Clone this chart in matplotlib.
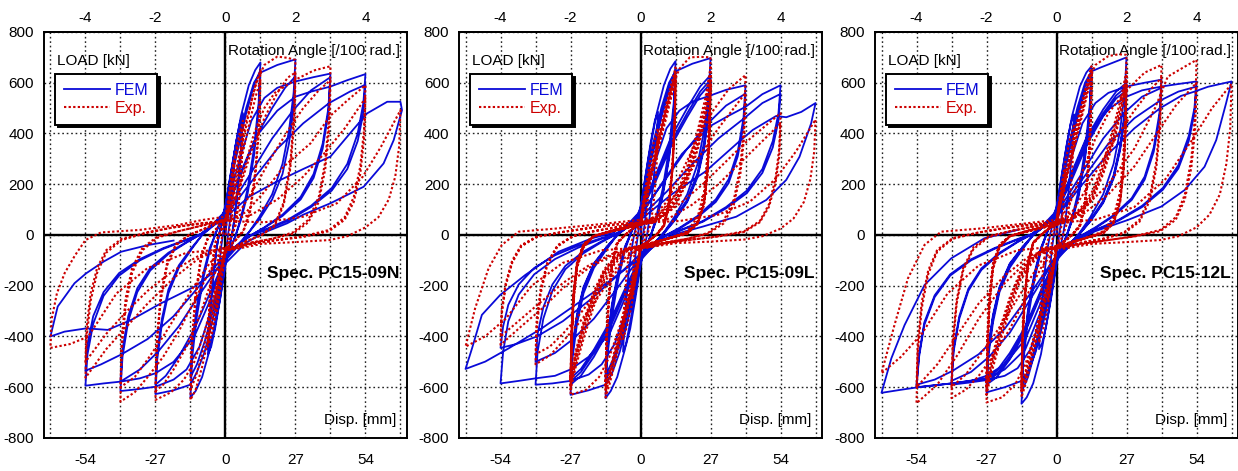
import numpy as np
import matplotlib.pyplot as plt

plt.rcParams['font.family'] = ['Liberation Sans', 'DejaVu Sans']
plt.rcParams['axes.unicode_minus'] = False

# load-displacement histories: (disp [mm], load [kN]), one list per cycle

fem_09n = [
    [(0, 0), (1.2, 130), (2.4, 230), (3.4, 290), (2.8, 180), (1.8, 60), (1.0, 0), (0, -90),
     (-1.2, -170), (-2.4, -240), (-3.4, -290), (-2.8, -180), (-1.8, -60), (-1.0, 0), (0, 90)],
    [(2, 230), (4, 360), (5.5, 440), (6.75, 480), (6, 340), (4.8, 190), (3.5, 70), (2.5, 0), (0, -120),
     (-2, -250), (-4, -370), (-5.5, -440), (-6.75, -470), (-6, -330), (-4.8, -180), (-3.5, -60), (-2.5, 0), (0, 110)],
    [(2.2, 250), (4.4, 380), (6.75, 460), (6, 320), (4.6, 160), (3.2, 40), (2.5, 0), (0, -110),
     (-2.2, -260), (-4.4, -380), (-6.75, -450), (-6, -310), (-4.6, -150), (-3.2, -40), (-2.5, 0), (0, 120)],
    [(3, 300), (6, 470), (9, 590), (11.5, 650), (13.5, 680), (12.8, 520), (11, 340), (8.5, 180), (6, 70), (4, 0), (0, -110),
     (-3, -290), (-6, -450), (-9, -560), (-11.5, -615), (-13.5, -640), (-12.8, -480), (-11, -320), (-8.5, -170), (-6, -60), (-4, 0), (0, 110)],
    [(4, 300), (8, 480), (11, 590), (13.5, 650), (12.8, 490), (11, 310), (8.5, 160), (6, 60), (4, 0), (0, -100),
     (-4, -270), (-8, -420), (-11, -510), (-13.5, -560), (-12.8, -420), (-11, -280), (-8.5, -150), (-6, -50), (-4, 0), (0, 100)],
    [(4, 320), (8, 500), (11, 600), (13.5, 640), (20, 670), (27, 692), (26.3, 560), (24.5, 410), (22, 280), (18, 160), (13, 70), (9, 10), (6, -30), (0, -100),
     (-4, -300), (-8, -460), (-11, -540), (-13.5, -590), (-20, -612), (-27, -627), (-26.3, -490), (-24.5, -350), (-22, -230), (-18, -130), (-13, -55), (-9, 0), (-6, 30), (0, 95)],
    [(6, 240), (12, 390), (18, 500), (23, 580), (27, 625), (26.3, 500), (24.5, 360), (22, 240), (18, 140), (13, 60), (9, 10), (6, -25), (0, -90),
     (-6, -230), (-12, -370), (-18, -480), (-23, -555), (-27, -590), (-26.3, -460), (-24.5, -330), (-22, -215), (-18, -120), (-13, -50), (-9, 0), (-6, 25), (0, 90)],
    [(5, 280), (10, 450), (15, 540), (20, 580), (27, 605), (34, 622), (40.5, 636), (39.7, 500), (37.5, 360), (34, 240), (29, 150), (22, 80), (15, 30), (10, 0), (5, -40), (0, -90),
     (-5, -280), (-10, -440), (-15, -530), (-20, -570), (-27, -598), (-34, -608), (-40.5, -615), (-39.7, -480), (-37.5, -340), (-34, -225), (-29, -140), (-22, -75), (-15, -30), (-10, 0), (-5, 40), (0, 85)],
    [(9, 230), (18, 380), (26, 490), (33, 570), (40.5, 622), (39.7, 480), (37.5, 340), (34, 225), (29, 140), (22, 75), (15, 28), (10, 0), (5, -38), (0, -85),
     (-9, -220), (-18, -360), (-26, -460), (-33, -530), (-40.5, -578), (-39.7, -450), (-37.5, -320), (-34, -210), (-29, -130), (-22, -70), (-15, -28), (-10, 0), (-5, 38), (0, 80)],
    [(6, 250), (12, 390), (20, 490), (27, 545), (33, 565), (40.5, 585), (47, 610), (54, 634), (53.2, 520), (51, 400), (47, 280), (41, 185), (33, 115), (24, 60), (15, 20), (9, -5), (0, -80),
     (-6, -260), (-12, -400), (-20, -500), (-27, -545), (-33, -565), (-40.5, -578), (-47, -585), (-54, -594), (-53.2, -470), (-51, -350), (-47, -240), (-41, -160), (-33, -100), (-24, -55), (-15, -20), (-9, 5), (0, 75)],
    [(10, 210), (20, 340), (30, 440), (40, 520), (48, 565), (54, 592), (53.2, 480), (51, 370), (47, 260), (41, 175), (33, 110), (24, 55), (15, 18), (9, -5), (0, -75),
     (-10, -200), (-20, -320), (-30, -410), (-40, -470), (-48, -510), (-54, -535), (-53.2, -430), (-51, -320), (-47, -225), (-41, -150), (-33, -95), (-24, -52), (-15, -18), (-9, 5), (0, 70)],
    [(9, 150), (18.6, 204), (30, 260), (40.5, 309), (48, 400), (54.6, 479), (62.4, 525), (67.5, 525), (68.1, 492), (64.9, 374), (61, 282), (53.3, 190), (40.5, 125), (30, 80), (23.8, 46), (15, 10), (8, -30), (0, -112),
     (-12, -204), (-24.8, -269), (-36.4, -335), (-45.4, -374), (-53.7, -368), (-62.1, -381), (-67.5, -400), (-64.7, -282), (-58.2, -190), (-53.7, -151), (-47, -105), (-40.2, -66), (-30, -40), (-20, -22)],
]

exp_09n = [
    [(0, 0), (1, 110), (2.2, 220), (3.4, 300), (2.9, 170), (2.2, 60), (1.2, 0), (0, -70),
     (-1, -140), (-2.2, -230), (-3.4, -300), (-2.9, -170), (-2.2, -60), (-1.2, 0), (0, 70)],
    [(1.5, 170), (3.5, 300), (5.2, 390), (6.75, 450), (6.2, 300), (5.3, 160), (4, 50), (2.5, 0), (0, -60),
     (-1.5, -160), (-3.5, -300), (-5.2, -390), (-6.75, -440), (-6.2, -290), (-5.3, -150), (-4, -40), (-2.5, 0), (0, 60)],
    [(2, 180), (4, 310), (6.75, 430), (6.2, 280), (5.3, 140), (4, 40), (2.5, 0), (0, -60),
     (-2, -170), (-4, -310), (-6.75, -420), (-6.2, -270), (-5.3, -130), (-4, -30), (-2.5, 0), (0, 60)],
    [(3, 160), (6, 330), (9, 480), (11.5, 590), (13.5, 650), (13, 450), (11.5, 250), (9.5, 100), (7, 20), (4, -20), (0, -60),
     (-3, -200), (-6, -380), (-9, -520), (-11.5, -610), (-13.5, -650), (-13, -450), (-11.5, -250), (-9.5, -100), (-7, -20), (-4, 20), (0, 60)],
    [(3, 140), (6, 290), (9, 430), (11.5, 540), (13.5, 610), (13, 420), (11.5, 230), (9.5, 90), (7, 15), (4, -20), (0, -55),
     (-3, -180), (-6, -340), (-9, -470), (-11.5, -560), (-13.5, -610), (-13, -420), (-11.5, -230), (-9.5, -90), (-7, -15), (-4, 20), (0, 55)],
    [(4, 250), (8, 450), (12, 600), (15, 670), (20, 703), (24, 698), (27, 690), (26.5, 480), (25, 280), (22.5, 130), (19, 40), (14, 0), (8, -25), (2, -55), (0, -70),
     (-4, -220), (-8, -380), (-12, -500), (-16, -570), (-21, -620), (-27, -650), (-26.5, -440), (-25, -260), (-22.5, -120), (-19, -40), (-14, 0), (-8, 25), (-2, 55), (0, 65)],
    [(5, 170), (10, 330), (15, 460), (20, 560), (24, 620), (27, 640), (26.5, 440), (25, 260), (22.5, 120), (19, 35), (14, 0), (8, -25), (2, -55), (0, -65),
     (-5, -170), (-10, -320), (-15, -440), (-20, -530), (-24, -590), (-27, -615), (-26.5, -420), (-25, -240), (-22.5, -110), (-19, -35), (-14, 0), (-8, 25), (-2, 50), (0, 60)],
    [(3, 110), (7, 250), (11, 400), (15, 500), (19, 560), (27, 612), (34, 648), (40.5, 665), (40, 470), (38.5, 290), (36, 150), (32, 60), (26, 10), (18, -15), (10, -30), (3, -55), (0, -60),
     (-6, -140), (-12, -260), (-18, -380), (-24, -480), (-30, -560), (-35, -620), (-40.5, -657), (-40, -450), (-38.5, -280), (-36, -150), (-32, -60), (-26, -10), (-18, 15), (-10, 35), (-3, 55), (0, 60)],
    [(6, 100), (12, 200), (18, 310), (24, 410), (30, 500), (36, 570), (40.5, 610), (40, 420), (38.5, 260), (36, 130), (32, 50), (26, 5), (18, -15), (10, -30), (3, -50), (0, -55),
     (-6, -110), (-12, -200), (-18, -300), (-24, -400), (-30, -490), (-35, -560), (-40.5, -600), (-40, -410), (-38.5, -250), (-36, -130), (-32, -50), (-26, -5), (-18, 15), (-10, 35), (-3, 50), (0, 55)],
    [(8, 90), (15, 170), (22.5, 270), (32.8, 361), (40.5, 470), (47, 530), (54, 590), (53.5, 420), (52, 270), (49.5, 150), (46, 70), (40, 20), (30, -5), (20, -20), (10, -35), (3, -55), (0, -50),
     (-10, -90), (-20, -170), (-30, -270), (-38, -360), (-46, -450), (-54, -563), (-53.5, -400), (-52, -260), (-49.5, -150), (-46, -70), (-40, -20), (-30, 10), (-20, 30), (-10, 45), (0, 55)],
    [(10, 80), (20, 140), (30, 230), (38, 320), (46, 420), (54, 540), (53.5, 380), (52, 240), (49.5, 130), (46, 60), (40, 15), (30, -8), (20, -20), (10, -35), (0, -50),
     (-10, -80), (-20, -140), (-30, -220), (-38, -300), (-46, -390), (-54, -500), (-53.5, -360), (-52, -230), (-49.5, -130), (-46, -60), (-40, -15), (-30, 10), (-20, 30), (-10, 45), (0, 55)],
    [(15, 50), (30, 72), (43, 125), (53, 230), (60, 348), (67.5, 492), (67, 350), (65.5, 230), (63, 140), (59, 70), (54, 30), (47, -5), (40, -20), (27, -28), (14, -35), (2, -60), (0, -55),
     (-15, -70), (-30, -130), (-42, -230), (-53, -401), (-60, -430), (-67.5, -445), (-67, -330), (-65, -230), (-62, -150), (-58, -80), (-54, -20), (-48, 10), (-33, 20), (-18, 40), (-9, 59), (0, 72)],
]

fem_09l = [
    [(0, 0), (1.2, 140), (2.4, 240), (3.4, 300), (2.8, 190), (1.8, 60), (1, 0), (0, -90),
     (-1.2, -170), (-2.4, -250), (-3.4, -300), (-2.8, -190), (-1.8, -60), (-1, 0), (0, 90)],
    [(2, 240), (4, 370), (5.5, 450), (6.75, 485), (6, 340), (4.8, 190), (3.5, 70), (2.5, 0), (0, -120),
     (-2, -250), (-4, -370), (-5.5, -430), (-6.75, -460), (-6, -320), (-4.8, -170), (-3.5, -60), (-2.5, 0), (0, 110)],
    [(3, 300), (6, 470), (9, 590), (11.5, 655), (13.5, 685), (12.8, 520), (11, 340), (8.5, 180), (6, 70), (4, 0), (0, -110),
     (-3, -290), (-6, -450), (-9, -560), (-11.5, -615), (-13.5, -643), (-12.8, -480), (-11, -320), (-8.5, -170), (-6, -60), (-4, 0), (0, 110)],
    [(4, 300), (8, 480), (11, 590), (13.5, 650), (12.8, 490), (11, 310), (8.5, 160), (6, 60), (4, 0), (0, -100),
     (-4, -270), (-8, -430), (-11, -520), (-13.5, -570), (-12.8, -430), (-11, -280), (-8.5, -150), (-6, -50), (-4, 0), (0, 100)],
    [(4, 290), (8, 460), (11, 570), (13.5, 630), (12.8, 470), (11, 300), (8.5, 150), (6, 55), (4, 0), (0, -95),
     (-4, -260), (-8, -410), (-11, -500), (-13.5, -555), (-12.8, -410), (-11, -270), (-8.5, -140), (-6, -45), (-4, 0), (0, 95)],
    [(4, 320), (8, 500), (11, 600), (13.5, 645), (20, 675), (27, 697), (26.3, 560), (24.5, 410), (22, 280), (18, 160), (13, 70), (9, 10), (6, -30), (0, -100),
     (-4, -300), (-8, -460), (-11, -545), (-13.5, -590), (-20, -612), (-27, -630), (-26.3, -490), (-24.5, -350), (-22, -230), (-18, -130), (-13, -55), (-9, 0), (-6, 30), (0, 95)],
    [(6, 240), (12, 390), (18, 500), (23, 585), (27, 630), (26.3, 505), (24.5, 365), (22, 245), (18, 140), (13, 60), (9, 10), (6, -25), (0, -90),
     (-6, -230), (-12, -370), (-18, -480), (-23, -555), (-27, -590), (-26.3, -460), (-24.5, -330), (-22, -215), (-18, -120), (-13, -50), (-9, 0), (-6, 25), (0, 90)],
    [(6, 225), (12, 370), (18, 480), (23, 565), (27, 612), (26.3, 485), (24.5, 350), (22, 235), (18, 135), (13, 58), (9, 8), (6, -25), (0, -88),
     (-6, -220), (-12, -355), (-18, -465), (-23, -540), (-27, -578), (-26.3, -450), (-24.5, -320), (-22, -210), (-18, -115), (-13, -48), (-9, 0), (-6, 24), (0, 88)],
    [(6, 215), (12, 355), (18, 465), (23, 550), (27, 598), (26.3, 470), (24.5, 340), (22, 228), (18, 130), (13, 55), (9, 6), (6, -25), (0, -85),
     (-6, -212), (-12, -345), (-18, -452), (-23, -528), (-27, -565), (-26.3, -440), (-24.5, -312), (-22, -205), (-18, -112), (-13, -46), (-9, 0), (-6, 24), (0, 85)],
    [(5, 270), (10, 420), (15, 490), (20, 525), (27, 550), (33, 572), (40.5, 590), (39.7, 460), (37.5, 330), (34, 220), (29, 140), (22, 75), (15, 28), (10, 0), (5, -40), (0, -90),
     (-5, -280), (-10, -430), (-15, -510), (-20, -550), (-27, -575), (-34, -585), (-40.5, -590), (-39.7, -460), (-37.5, -330), (-34, -220), (-29, -135), (-22, -72), (-15, -28), (-10, 0), (-5, 38), (0, 85)],
    [(9, 210), (18, 340), (26, 440), (33, 510), (40.5, 557), (39.7, 430), (37.5, 310), (34, 205), (29, 130), (22, 70), (15, 25), (10, 0), (5, -36), (0, -85),
     (-9, -210), (-18, -330), (-26, -410), (-33, -465), (-40.5, -500), (-39.7, -390), (-37.5, -285), (-34, -195), (-29, -122), (-22, -65), (-15, -25), (-10, 0), (-5, 35), (0, 75)],
    [(8, 200), (16, 320), (27, 430), (34, 470), (40.5, 505), (47, 555), (54, 590), (53.2, 480), (51, 370), (47, 260), (41, 175), (33, 110), (24, 55), (15, 18), (9, -5), (0, -80),
     (-6, -250), (-12, -390), (-20, -480), (-27, -530), (-33, -555), (-40.5, -565), (-47, -575), (-54, -585), (-53, -460), (-51, -340), (-47, -235), (-41, -155), (-33, -95), (-24, -50), (-15, -15), (-9, 5), (0, 70)],
    [(10, 170), (20, 280), (30, 380), (40, 460), (47, 520), (54, 556), (53.2, 450), (51, 345), (47, 245), (41, 165), (33, 105), (24, 52), (15, 16), (9, -5), (0, -75),
     (-10, -170), (-20, -260), (-30, -340), (-40, -400), (-48, -430), (-54, -445), (-53, -360), (-51, -275), (-47, -195), (-41, -130), (-33, -80), (-24, -42), (-15, -12), (-9, 5), (0, 60)],
    [(12, 160), (25, 250), (38, 368), (43.3, 414), (52.3, 469), (56.2, 464), (62, 485), (67.5, 520), (65.8, 440), (61.3, 308), (56.2, 217), (48.5, 138), (36.9, 72), (24, 33), (14, 5), (8, -20), (0, -90),
     (-12.3, -184), (-25.2, -276), (-38.1, -368), (-50.9, -447), (-59.9, -499), (-67.5, -528), (-65, -447), (-61.2, -315), (-54.1, -236), (-44.5, -158), (-31.6, -66), (-18.8, -13), (-10, 10)],
]

exp_09l = [
    [(0, 0), (1, 100), (2.2, 190), (3.4, 250), (2.9, 150), (2.2, 50), (1.2, 0), (0, -60),
     (-1, -120), (-2.2, -190), (-3.4, -250), (-2.9, -150), (-2.2, -50), (-1.2, 0), (0, 60)],
    [(1.5, 160), (3.5, 280), (5.2, 370), (6.75, 420), (6.2, 280), (5.3, 150), (4, 45), (2.5, 0), (0, -55),
     (-1.5, -150), (-3.5, -280), (-5.2, -360), (-6.75, -410), (-6.2, -270), (-5.3, -140), (-4, -40), (-2.5, 0), (0, 55)],
    [(1, 125), (4, 260), (7, 390), (10, 520), (12, 600), (13.5, 660), (13.2, 470), (12.3, 280), (11, 130), (9, 40), (6, 0), (3, -25), (0, -50),
     (-1, -120), (-4, -250), (-7, -380), (-10, -510), (-12, -590), (-13.5, -640), (-13.2, -450), (-12.3, -270), (-11, -120), (-9, -35), (-6, 0), (-3, 25), (0, 50)],
    [(1, 115), (4, 245), (7, 370), (10, 500), (12, 580), (13.5, 640), (13.2, 455), (12.3, 270), (11, 125), (9, 38), (6, 0), (3, -25), (0, -48),
     (-1, -115), (-4, -240), (-7, -365), (-10, -490), (-12, -570), (-13.5, -620), (-13.2, -435), (-12.3, -260), (-11, -115), (-9, -33), (-6, 0), (-3, 25), (0, 48)],
    [(1, 105), (4, 235), (7, 355), (10, 480), (12, 565), (13.5, 625), (13.2, 440), (12.3, 260), (11, 120), (9, 35), (6, 0), (3, -25), (0, -46),
     (-1, -110), (-4, -230), (-7, -350), (-10, -470), (-12, -555), (-13.5, -605), (-13.2, -420), (-12.3, -250), (-11, -110), (-9, -30), (-6, 0), (-3, 25), (0, 46)],
    [(1, 100), (4, 225), (7, 345), (10, 465), (12, 550), (13.5, 610), (13.2, 430), (12.3, 250), (11, 115), (9, 32), (6, 0), (3, -25), (0, -45),
     (-1, -105), (-4, -220), (-7, -340), (-10, -455), (-12, -540), (-13.5, -590), (-13.2, -410), (-12.3, -240), (-11, -105), (-9, -28), (-6, 0), (-3, 25), (0, 45)],
    [(4, 220), (8, 420), (12, 580), (15, 655), (19, 700), (23, 702), (27, 700), (26.6, 500), (25.8, 320), (24.5, 170), (22, 70), (18, 15), (12, -10), (6, -30), (0, -55),
     (-4, -200), (-8, -360), (-12, -480), (-16, -560), (-21, -610), (-27, -630), (-26.6, -430), (-25.8, -260), (-24.5, -130), (-22, -50), (-18, -5), (-12, 15), (-6, 30), (0, 50)],
    [(5, 60), (10, 110), (14, 165), (18, 270), (22, 410), (25, 540), (27, 660), (26.6, 440), (25.8, 270), (24.5, 140), (22, 55), (18, 10), (12, -10), (6, -28), (0, -50),
     (-5, -62), (-10, -115), (-14, -175), (-18, -280), (-22, -410), (-25, -520), (-27, -610), (-26.6, -410), (-25.8, -250), (-24.5, -125), (-22, -45), (-18, -5), (-12, 14), (-6, 30), (0, 45)],
    [(5, 55), (10, 100), (14, 150), (18, 250), (22, 385), (25, 510), (27, 635), (26.6, 425), (25.8, 260), (24.5, 135), (22, 50), (18, 8), (12, -10), (6, -28), (0, -48),
     (-5, -58), (-10, -105), (-14, -160), (-18, -260), (-22, -390), (-25, -500), (-27, -595), (-26.6, -400), (-25.8, -240), (-24.5, -120), (-22, -42), (-18, -5), (-12, 13), (-6, 28), (0, 44)],
    [(5, 52), (10, 95), (14, 140), (18, 235), (22, 365), (25, 490), (27, 615), (26.6, 410), (25.8, 250), (24.5, 128), (22, 48), (18, 7), (12, -10), (6, -27), (0, -46),
     (-5, -55), (-10, -98), (-14, -150), (-18, -245), (-22, -370), (-25, -485), (-27, -580), (-26.6, -390), (-25.8, -232), (-24.5, -115), (-22, -40), (-18, -4), (-12, 12), (-6, 27), (0, 43)],
    [(5, 50), (10, 90), (14, 132), (18, 222), (22, 350), (25, 475), (27, 600), (26.6, 400), (25.8, 242), (24.5, 122), (22, 45), (18, 6), (12, -10), (6, -26), (0, -45),
     (-5, -52), (-10, -92), (-14, -142), (-18, -232), (-22, -355), (-25, -470), (-27, -570), (-26.6, -382), (-25.8, -225), (-24.5, -110), (-22, -38), (-18, -4), (-12, 12), (-6, 26), (0, 42)],
    [(5, 48), (10, 85), (14, 125), (18, 210), (22, 335), (25, 460), (27, 585), (26.6, 390), (25.8, 235), (24.5, 118), (22, 43), (18, 5), (12, -10), (6, -25), (0, -44),
     (-5, -50), (-10, -88), (-14, -135), (-18, -222), (-22, -342), (-25, -458), (-27, -560), (-26.6, -375), (-25.8, -220), (-24.5, -106), (-22, -36), (-18, -3), (-12, 12), (-6, 25), (0, 42)],
    [(4, 60), (10, 130), (16, 250), (22, 380), (28, 490), (34, 575), (40.5, 630), (40, 440), (38.5, 270), (36, 140), (32, 55), (26, 8), (18, -15), (10, -30), (3, -50), (0, -52),
     (-6, -100), (-12, -180), (-18, -270), (-24, -350), (-30, -420), (-35, -475), (-40.5, -510), (-40, -360), (-38.5, -230), (-36, -120), (-32, -45), (-26, -5), (-18, 15), (-10, 30), (-3, 45), (0, 50)],
    [(6, 70), (12, 140), (18, 230), (24, 330), (30, 420), (36, 500), (40.5, 560), (40, 390), (38.5, 240), (36, 120), (32, 45), (26, 5), (18, -15), (10, -28), (3, -46), (0, -48),
     (-6, -90), (-12, -160), (-18, -240), (-24, -320), (-30, -390), (-35, -440), (-40.5, -470), (-40, -330), (-38.5, -210), (-36, -110), (-32, -40), (-26, -3), (-18, 15), (-10, 28), (-3, 42), (0, 46)],
    [(8, 70), (16, 130), (24, 200), (32, 280), (40, 360), (47, 420), (54, 480), (53.5, 340), (52, 220), (49.5, 120), (46, 55), (40, 15), (30, -5), (20, -18), (10, -32), (0, -46),
     (-10, -75), (-20, -130), (-30, -210), (-38, -290), (-46, -360), (-54, -433), (-53.5, -310), (-52, -200), (-49.5, -110), (-46, -45), (-40, -8), (-30, 12), (-20, 28), (-10, 42), (0, 50)],
    [(10, 60), (20, 120), (30, 200), (38, 280), (46, 360), (54, 440), (53.5, 310), (52, 200), (49.5, 110), (46, 50), (40, 12), (30, -6), (20, -18), (10, -30), (0, -44),
     (-10, -70), (-20, -120), (-30, -190), (-38, -260), (-46, -330), (-54, -400), (-53.5, -290), (-52, -190), (-49.5, -100), (-46, -40), (-40, -6), (-30, 12), (-20, 26), (-10, 40), (0, 48)],
    [(15, 55), (30, 80), (42, 130), (52, 220), (60, 330), (67.5, 455), (67, 330), (65.5, 220), (63, 130), (59, 65), (54, 25), (47, -5), (40, -18), (27, -26), (14, -32), (2, -50), (0, -50),
     (-15, -60), (-30, -110), (-42, -200), (-52, -330), (-60, -400), (-67.5, -440), (-63.8, -289), (-58.6, -131), (-53.5, -39), (-47, 13), (-33, 25), (-18, 40), (-9, 50), (0, 60)],
]

fem_12l = [
    [(0, 0), (1.2, 130), (2.4, 230), (3.4, 280), (2.8, 175), (1.8, 55), (1, 0), (0, -90),
     (-1.2, -165), (-2.4, -235), (-3.4, -280), (-2.8, -175), (-1.8, -55), (-1, 0), (0, 90)],
    [(2, 230), (4, 360), (5.5, 440), (6.75, 475), (6, 335), (4.8, 185), (3.5, 65), (2.5, 0), (0, -115),
     (-2, -245), (-4, -360), (-5.5, -425), (-6.75, -450), (-6, -315), (-4.8, -165), (-3.5, -55), (-2.5, 0), (0, 110)],
    [(3, 300), (6, 470), (9, 585), (11.5, 640), (13.5, 665), (12.8, 510), (11, 335), (8.5, 175), (6, 68), (4, 0), (0, -110),
     (-3, -300), (-6, -470), (-9, -585), (-11.5, -640), (-13.5, -665), (-12.8, -500), (-11, -330), (-8.5, -175), (-6, -62), (-4, 0), (0, 110)],
    [(4, 300), (8, 480), (11, 585), (13.5, 640), (12.8, 485), (11, 310), (8.5, 160), (6, 60), (4, 0), (0, -100),
     (-4, -280), (-8, -450), (-11, -560), (-13.5, -620), (-12.8, -470), (-11, -305), (-8.5, -160), (-6, -55), (-4, 0), (0, 100)],
    [(4, 290), (8, 460), (11, 565), (13.5, 620), (12.8, 470), (11, 300), (8.5, 150), (6, 55), (4, 0), (0, -95),
     (-4, -265), (-8, -430), (-11, -540), (-13.5, -600), (-12.8, -455), (-11, -295), (-8.5, -150), (-6, -50), (-4, 0), (0, 95)],
    [(4, 320), (8, 500), (11, 600), (13.5, 645), (17, 660), (22, 680), (27, 700), (26.3, 560), (24.5, 410), (22, 280), (18, 160), (13, 70), (9, 10), (6, -30), (0, -100),
     (-4, -300), (-8, -460), (-11, -540), (-13.5, -575), (-20, -600), (-27, -620), (-26.3, -480), (-24.5, -345), (-22, -225), (-18, -128), (-13, -55), (-9, 0), (-6, 30), (0, 95)],
    [(6, 240), (12, 390), (18, 495), (23, 565), (27, 600), (26.3, 480), (24.5, 350), (22, 235), (18, 135), (13, 58), (9, 8), (6, -25), (0, -90),
     (-6, -235), (-12, -380), (-18, -490), (-23, -560), (-27, -590), (-26.3, -460), (-24.5, -330), (-22, -215), (-18, -120), (-13, -50), (-9, 0), (-6, 25), (0, 90)],
    [(6, 230), (12, 375), (18, 480), (23, 550), (27, 585), (26.3, 470), (24.5, 340), (22, 228), (18, 130), (13, 55), (9, 6), (6, -25), (0, -88),
     (-6, -225), (-12, -370), (-18, -478), (-23, -548), (-27, -580), (-26.3, -450), (-24.5, -322), (-22, -210), (-18, -115), (-13, -48), (-9, 0), (-6, 24), (0, 88)],
    [(6, 220), (12, 362), (18, 468), (23, 538), (27, 570), (26.3, 458), (24.5, 332), (22, 222), (18, 126), (13, 53), (9, 5), (6, -25), (0, -86),
     (-6, -218), (-12, -360), (-18, -465), (-23, -535), (-27, -565), (-26.3, -440), (-24.5, -315), (-22, -205), (-18, -112), (-13, -46), (-9, 0), (-6, 24), (0, 86)],
    [(5, 280), (10, 440), (15, 520), (20, 560), (27, 585), (34, 600), (40.5, 612), (39.7, 480), (37.5, 345), (34, 230), (29, 145), (22, 78), (15, 30), (10, 0), (5, -40), (0, -90),
     (-5, -290), (-10, -450), (-15, -525), (-20, -555), (-27, -572), (-34, -582), (-40.5, -590), (-39.7, -460), (-37.5, -330), (-34, -220), (-29, -138), (-22, -74), (-15, -28), (-10, 0), (-5, 40), (0, 85)],
    [(9, 230), (18, 380), (26, 480), (33, 545), (40.5, 580), (39.7, 455), (37.5, 328), (34, 218), (29, 138), (22, 74), (15, 27), (10, 0), (5, -38), (0, -85),
     (-9, -235), (-18, -385), (-26, -480), (-33, -540), (-40.5, -575), (-39.7, -448), (-37.5, -320), (-34, -212), (-29, -132), (-22, -70), (-15, -26), (-10, 0), (-5, 38), (0, 80)],
    [(6, 250), (12, 395), (20, 495), (27, 545), (33, 570), (40.5, 585), (47, 595), (54, 605), (53.2, 500), (51, 390), (47, 275), (41, 185), (33, 115), (24, 60), (15, 20), (9, -5), (0, -85),
     (-6, -265), (-12, -410), (-20, -510), (-27, -555), (-33, -575), (-40.5, -585), (-47, -592), (-54, -600), (-53, -480), (-51, -355), (-47, -245), (-41, -160), (-33, -100), (-24, -55), (-15, -18), (-9, 5), (0, 75)],
    [(10, 220), (20, 360), (30, 460), (40, 530), (47, 565), (54, 585), (53.2, 480), (51, 370), (47, 262), (41, 178), (33, 110), (24, 57), (15, 18), (9, -5), (0, -80),
     (-10, -230), (-20, -370), (-30, -470), (-40, -535), (-47, -570), (-54, -590), (-53, -470), (-51, -345), (-47, -238), (-41, -155), (-33, -96), (-24, -52), (-15, -16), (-9, 5), (0, 70)],
    [(10, 200), (20, 320), (30, 420), (40, 500), (48, 548), (53.2, 565), (58.4, 584), (67.5, 605), (65.4, 519), (61.6, 374), (57.1, 269), (49.4, 177), (40.4, 112), (27.5, 59), (15, 15), (8, -20), (0, -90),
     (-6, -300), (-12, -450), (-20, -530), (-27, -565), (-40.5, -585), (-54, -601), (-60, -610), (-67.5, -622), (-63.7, -486), (-58.6, -355), (-50.9, -197), (-40.6, -92), (-27.8, -13), (-15, 20)],
]

exp_12l = [
    [(0, 0), (1, 105), (2.2, 200), (3.4, 260), (2.9, 155), (2.2, 50), (1.2, 0), (0, -60),
     (-1, -125), (-2.2, -200), (-3.4, -260), (-2.9, -155), (-2.2, -50), (-1.2, 0), (0, 60)],
    [(1.5, 165), (3.5, 290), (5.2, 380), (6.75, 430), (6.2, 285), (5.3, 150), (4, 45), (2.5, 0), (0, -55),
     (-1.5, -155), (-3.5, -290), (-5.2, -375), (-6.75, -425), (-6.2, -280), (-5.3, -145), (-4, -40), (-2.5, 0), (0, 55)],
    [(1, 125), (4, 260), (7, 395), (10, 525), (12, 610), (13.5, 665), (13.2, 475), (12.3, 285), (11, 130), (9, 40), (6, 0), (3, -25), (0, -50),
     (-1, -120), (-4, -250), (-7, -385), (-10, -510), (-12, -590), (-13.5, -640), (-13.2, -450), (-12.3, -270), (-11, -120), (-9, -35), (-6, 0), (-3, 25), (0, 50)],
    [(1, 115), (4, 248), (7, 378), (10, 505), (12, 590), (13.5, 645), (13.2, 460), (12.3, 275), (11, 125), (9, 38), (6, 0), (3, -25), (0, -48),
     (-1, -115), (-4, -240), (-7, -370), (-10, -490), (-12, -570), (-13.5, -620), (-13.2, -435), (-12.3, -260), (-11, -115), (-9, -33), (-6, 0), (-3, 25), (0, 48)],
    [(1, 108), (4, 238), (7, 362), (10, 490), (12, 575), (13.5, 630), (13.2, 448), (12.3, 265), (11, 120), (9, 35), (6, 0), (3, -25), (0, -46),
     (-1, -110), (-4, -230), (-7, -355), (-10, -472), (-12, -555), (-13.5, -605), (-13.2, -422), (-12.3, -252), (-11, -110), (-9, -30), (-6, 0), (-3, 25), (0, 46)],
    [(1, 100), (4, 228), (7, 350), (10, 475), (12, 560), (13.5, 615), (13.2, 435), (12.3, 255), (11, 115), (9, 32), (6, 0), (3, -25), (0, -45),
     (-1, -105), (-4, -222), (-7, -342), (-10, -458), (-12, -540), (-13.5, -590), (-13.2, -410), (-12.3, -243), (-11, -105), (-9, -28), (-6, 0), (-3, 25), (0, 45)],
    [(4, 250), (8, 450), (12, 600), (15, 670), (20, 705), (24, 712), (27, 710), (26.6, 500), (25.8, 320), (24.5, 170), (22, 70), (18, 15), (12, -10), (6, -30), (0, -55),
     (-4, -210), (-8, -380), (-12, -510), (-16, -590), (-21, -640), (-27, -660), (-26.6, -450), (-25.8, -270), (-24.5, -135), (-22, -50), (-18, -5), (-12, 15), (-6, 30), (0, 50)],
    [(5, 60), (10, 115), (14, 175), (18, 285), (22, 425), (25, 545), (27, 650), (26.6, 440), (25.8, 270), (24.5, 140), (22, 55), (18, 10), (12, -10), (6, -28), (0, -50),
     (-5, -62), (-10, -118), (-14, -180), (-18, -295), (-22, -430), (-25, -540), (-27, -630), (-26.6, -425), (-25.8, -258), (-24.5, -130), (-22, -46), (-18, -5), (-12, 14), (-6, 30), (0, 46)],
    [(5, 56), (10, 106), (14, 162), (18, 268), (22, 402), (25, 520), (27, 625), (26.6, 425), (25.8, 260), (24.5, 135), (22, 50), (18, 8), (12, -10), (6, -28), (0, -48),
     (-5, -58), (-10, -108), (-14, -166), (-18, -276), (-22, -408), (-25, -518), (-27, -610), (-26.6, -412), (-25.8, -248), (-24.5, -124), (-22, -43), (-18, -5), (-12, 13), (-6, 28), (0, 44)],
    [(5, 53), (10, 99), (14, 152), (18, 252), (22, 382), (25, 500), (27, 605), (26.6, 412), (25.8, 252), (24.5, 130), (22, 48), (18, 7), (12, -10), (6, -27), (0, -46),
     (-5, -55), (-10, -100), (-14, -155), (-18, -260), (-22, -390), (-25, -500), (-27, -595), (-26.6, -400), (-25.8, -240), (-24.5, -118), (-22, -40), (-18, -4), (-12, 12), (-6, 27), (0, 43)],
    [(5, 50), (10, 93), (14, 143), (18, 240), (22, 366), (25, 484), (27, 590), (26.6, 402), (25.8, 245), (24.5, 125), (22, 46), (18, 6), (12, -10), (6, -26), (0, -45),
     (-5, -52), (-10, -94), (-14, -146), (-18, -246), (-22, -374), (-25, -484), (-27, -580), (-26.6, -390), (-25.8, -233), (-24.5, -113), (-22, -38), (-18, -4), (-12, 12), (-6, 26), (0, 42)],
    [(5, 120), (10, 250), (15, 380), (20, 480), (27, 570), (34, 640), (40.5, 670), (40, 470), (38.5, 290), (36, 150), (32, 60), (26, 10), (18, -15), (10, -30), (3, -50), (0, -52),
     (-6, -130), (-12, -250), (-18, -370), (-24, -470), (-30, -555), (-35, -610), (-40.5, -643), (-40, -440), (-38.5, -270), (-36, -140), (-32, -55), (-26, -8), (-18, 15), (-10, 32), (-3, 48), (0, 52)],
    [(6, 90), (12, 190), (18, 300), (24, 400), (30, 490), (36, 570), (40.5, 620), (40, 430), (38.5, 265), (36, 135), (32, 52), (26, 6), (18, -15), (10, -28), (3, -46), (0, -48),
     (-6, -105), (-12, -200), (-18, -300), (-24, -395), (-30, -480), (-35, -550), (-40.5, -600), (-40, -415), (-38.5, -255), (-36, -130), (-32, -48), (-26, -4), (-18, 15), (-10, 30), (-3, 45), (0, 48)],
    [(10, 100), (20, 200), (30, 340), (38, 500), (42.9, 624), (49.4, 663), (54, 690), (53.5, 480), (52, 300), (49.5, 160), (46, 70), (40, 20), (30, -5), (20, -20), (10, -35), (0, -50),
     (-10, -90), (-20, -190), (-30, -330), (-38, -470), (-46, -590), (-54, -663), (-53.5, -460), (-52, -290), (-49.5, -155), (-46, -65), (-40, -15), (-30, 10), (-20, 28), (-10, 42), (0, 50)],
    [(10, 80), (20, 160), (30, 270), (38, 390), (46, 510), (54, 600), (53.5, 420), (52, 265), (49.5, 140), (46, 60), (40, 15), (30, -6), (20, -20), (10, -33), (0, -48),
     (-10, -80), (-20, -160), (-30, -270), (-38, -390), (-46, -510), (-54, -600), (-53.5, -420), (-52, -265), (-49.5, -140), (-46, -58), (-40, -12), (-30, 10), (-20, 26), (-10, 40), (0, 48)],
    [(15, 60), (30, 110), (42, 220), (52, 370), (60, 500), (67.5, 595), (67, 420), (65.5, 280), (63, 160), (59, 80), (54, 30), (47, -5), (40, -20), (27, -28), (14, -35), (2, -55), (0, -45),
     (-15, -60), (-30, -120), (-42, -230), (-52, -390), (-60, -480), (-67.5, -545), (-62.5, -355), (-57.3, -171), (-50.9, -39), (-44.5, 13), (-30, 25), (-15, 42), (0, 60)],
]

specimens = ['Spec. PC15-09N', 'Spec. PC15-09L', 'Spec. PC15-12L']
fem_runs = [fem_09n, fem_09l, fem_12l]
exp_runs = [exp_09n, exp_09l, exp_12l]

disp_ticks = [-54, -27, 0, 27, 54]
angle_ticks = [-4, -2, 0, 2, 4]
load_ticks = np.arange(-800, 801, 200)
height_mm = 13.5  # disp per 1/100 rad

fig = plt.figure(figsize=(12.38, 4.71), dpi=100)
lefts = [0.0355, 0.3708, 0.7068]

for left, name, fem, exp in zip(lefts, specimens, fem_runs, exp_runs):
    ax = fig.add_axes([left, 0.0701, 0.2932, 0.862])
    f = np.array([p for cyc in fem for p in cyc])
    e = np.array([p for cyc in exp for p in cyc])

    ax.axhline(0, color='black', lw=1.7, zorder=2)
    ax.axvline(0, color='black', lw=1.7, zorder=2)
    ax.plot(f[:, 0], f[:, 1], color='#0a0ad8', lw=1.3, label='FEM', zorder=3)
    ax.plot(e[:, 0], e[:, 1], color='#cc0000', lw=1.5, ls=(0, (1.1, 1.1)), label='Exp.', zorder=4)

    ax.set_xlim(-70, 70)
    ax.set_ylim(-800, 800)
    ax.set_xticks(disp_ticks)
    ax.set_xticks(np.arange(-67.5, 68, height_mm), minor=True)
    ax.set_yticks(load_ticks)
    ax.grid(True, which='both', axis='x', color='#222222', lw=1.0, ls=(0, (1.2, 2.0)))
    ax.grid(True, which='major', axis='y', color='#222222', lw=1.0, ls=(0, (1.2, 2.0)))
    ax.set_axisbelow(True)
    ax.tick_params(which='both', length=0, labelsize=11)
    ax.tick_params(axis='y', pad=7)
    ax.tick_params(axis='x', pad=11)
    for s in ax.spines.values():
        s.set_linewidth(1.4)

    top = ax.secondary_xaxis('top', functions=(lambda x: x / height_mm, lambda r: r * height_mm))
    top.set_xticks(angle_ticks)
    top.tick_params(length=0, labelsize=11, pad=5)
    top.spines['top'].set_linewidth(1.4)

    ax.text(0.036, 0.929, 'LOAD [kN]', transform=ax.transAxes, fontsize=11, va='center', ha='left')
    ax.text(0.98, 0.952, 'Rotation Angle [/100 rad.]', transform=ax.transAxes, fontsize=11, va='center', ha='right')
    ax.text(0.98, 0.406, name, transform=ax.transAxes, fontsize=12.5, fontweight='bold', va='center', ha='right')
    ax.text(0.972, 0.044, 'Disp. [mm]', transform=ax.transAxes, fontsize=11, va='center', ha='right')

    leg = ax.legend(loc='upper left', bbox_to_anchor=(0.03, 0.897), borderaxespad=0, fancybox=False,
                    shadow={'color': 'black', 'alpha': 1}, edgecolor='black', framealpha=1,
                    handlelength=2.9, handletextpad=0.3, fontsize=11.5, labelcolor='linecolor',
                    borderpad=0.55, labelspacing=0.2)
    leg.get_frame().set_linewidth(1.4)
    leg.set_zorder(6)

fig.savefig('out.png', dpi=100)
